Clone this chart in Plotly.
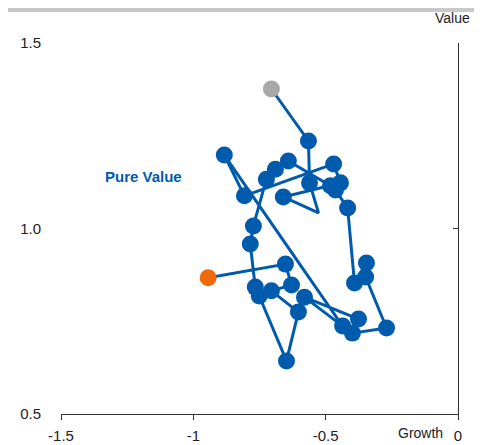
import plotly.graph_objects as go

# path from oldest (orange) to latest (grey)
growth = [-0.944, -0.652, -0.629, -0.705, -0.603, -0.648, -0.751, -0.766, -0.785, -0.773,
          -0.724, -0.690, -0.641, -0.482, -0.463, -0.417, -0.391, -0.346, -0.349, -0.270,
          -0.399, -0.376, -0.580, -0.436, -0.883, -0.807, -0.470, -0.444, -0.660, -0.527,
          -0.561, -0.565, -0.705]
value = [0.867, 0.904, 0.848, 0.832, 0.775, 0.643, 0.818, 0.842, 0.958, 1.007,
         1.133, 1.160, 1.182, 1.115, 1.104, 1.055, 0.853, 0.907, 0.869, 0.732,
         0.718, 0.756, 0.815, 0.737, 1.198, 1.088, 1.174, 1.123, 1.085, 1.042,
         1.123, 1.236, 1.376]
x_ticks = [-1.5, -1, -0.5, 0]
x_labels = ["-1.5", "-1", "-0.5", "0"]
y_ticks = [0.5, 1.0, 1.5]
y_labels = ["0.5", "1.0", "1.5"]

BLUE = "#005BAC"
n = len(growth)
colors = [BLUE] * n
colors[0] = "#EE6A0A"
colors[-1] = "#A8A8A8"
sizes = [17] * n
sizes[29] = 0  # line kink, no marker

fig = go.Figure()
fig.add_trace(go.Scatter(x=growth, y=value, mode="lines+markers",
                         line=dict(color=BLUE, width=3),
                         marker=dict(color=colors, size=sizes, opacity=1, line=dict(width=0)),
                         hoverinfo="skip", showlegend=False))
# dummy trace so the right-hand axis gets drawn
fig.add_trace(go.Scatter(x=[None], y=[None], yaxis="y2", showlegend=False, hoverinfo="skip"))

fig.add_annotation(x=-1.19, y=1.141, text="<b>Pure Value</b>", showarrow=False,
                   font=dict(size=15, color=BLUE))
fig.add_annotation(xref="paper", yref="paper", x=0.985, y=1.0, yshift=25, xanchor="center",
                   yanchor="middle", text="Value", showarrow=False,
                   font=dict(size=14, color="#222222"))
fig.add_annotation(xref="paper", yref="paper", x=0.906, y=0, yshift=-19, xanchor="center",
                   yanchor="middle", text="Growth", showarrow=False,
                   font=dict(size=14, color="#222222"))
fig.add_shape(type="line", xref="paper", yref="paper", x0=-0.16, x1=1.07, y0=1.089, y1=1.089,
              line=dict(color="#C8C8C8", width=4))

fig.update_layout(
    width=474, height=437,
    margin=dict(l=53, r=24, t=35, b=31),
    plot_bgcolor="white", paper_bgcolor="white",
    font=dict(family="Liberation Sans, Arial", size=15, color="#222222"),
    xaxis=dict(range=[-1.5, 0], tickvals=x_ticks, ticktext=x_labels, showgrid=False,
               zeroline=False, showline=True, linecolor="#333333", linewidth=1,
               ticks="outside", ticklen=5, tickcolor="#333333", automargin=False,
               ticklabelstandoff=3),
    yaxis=dict(range=[0.5, 1.5], tickvals=y_ticks, ticktext=y_labels, showgrid=False,
               zeroline=False, showline=False, ticks="", ticklabelstandoff=19,
               automargin=False),
    yaxis2=dict(range=[0.5, 1.5], overlaying="y", side="right", tickvals=y_ticks,
                showticklabels=False, showgrid=False, zeroline=False, showline=True,
                linecolor="#333333", linewidth=1, ticks="inside", ticklen=5,
                tickcolor="#333333", automargin=False),
)

fig.write_html("out.html")
